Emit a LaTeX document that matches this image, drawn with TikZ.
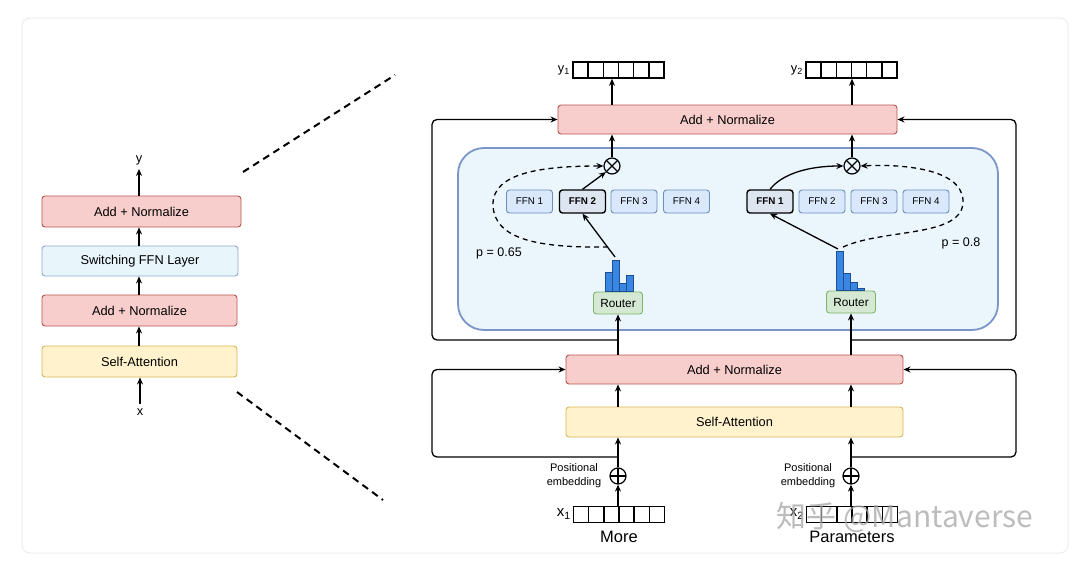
\documentclass[tikz,border=0pt]{standalone}
\usepackage{fontspec}
\setmainfont{Liberation Sans}
\newfontfamily\cjkfont{Noto Sans CJK SC}
\usetikzlibrary{arrows.meta,calc}
\definecolor{redf}{HTML}{F8CECC}
\definecolor{redd}{HTML}{B85450}
\definecolor{yelf}{HTML}{FFF2CC}
\definecolor{yeld}{HTML}{D6B656}
\definecolor{grnf}{HTML}{D5E8D4}
\definecolor{grnd}{HTML}{82B366}
\definecolor{ffnf}{HTML}{DAE8FC}
\definecolor{ffnd}{HTML}{6C8EBF}
\definecolor{self}{HTML}{DDE5F0}
\definecolor{swf}{HTML}{E8F5FB}
\definecolor{swd}{HTML}{8EAACB}
\definecolor{regf}{HTML}{EAF6FC}
\definecolor{regd}{HTML}{7B95C6}
\definecolor{barf}{HTML}{3A87E3}
\definecolor{bard}{HTML}{1C4E96}
\definecolor{framec}{HTML}{ECECEC}
\begin{document}
\begin{tikzpicture}[x=1pt,y=-1pt,
  font=\fontsize{12.8}{15}\selectfont,
  box/.style={rounded corners=3pt, line width=0.9pt, inner sep=0pt, align=center},
  redbox/.style={box, draw=redd, fill=redf},
  yelbox/.style={box, draw=yeld, fill=yelf},
  swbox/.style={box, draw=swd, fill=swf},
  ffnbox/.style={box, draw=ffnd, fill=ffnf, minimum width=46, minimum height=23, font=\fontsize{9.8}{11}\selectfont},
  ffnsel/.style={ffnbox, draw=black, line width=1.4pt, fill=self, font=\fontsize{9.8}{11}\selectfont\bfseries},
  router/.style={box, draw=grnd, fill=grnf, minimum width=49, minimum height=22, font=\fontsize{11.8}{13}\selectfont},
  region/.style={draw=regd, fill=regf, line width=1.8pt, rounded corners=26pt, inner sep=0pt},
  arr/.style={line width=1.3pt, -{Stealth[length=7pt,width=6pt]}},
  darr/.style={arr, dash pattern=on 5pt off 4pt},
  zoomline/.style={line width=2pt, dash pattern=on 7pt off 5pt},
  bar/.style={fill=barf, draw=bard, line width=0.6pt},
  lbl/.style={inner sep=0pt},
  pelbl/.style={inner sep=0pt, align=center, font=\fontsize{11}{14}\selectfont},
  vec/.style={draw, line width=1.6pt, minimum width=91, minimum height=16, inner sep=0pt,
    path picture={\foreach \i in {1,...,5}
      \draw[line width=1.6pt] ([xshift=\i*15.17pt]path picture bounding box.south west) -- ([xshift=\i*15.17pt]path picture bounding box.north west);}},
  otimes/.style={circle, draw, line width=1.2pt, minimum size=16, inner sep=0pt,
    path picture={\draw[line width=1.2pt] (path picture bounding box.north west) -- (path picture bounding box.south east)
      (path picture bounding box.south west) -- (path picture bounding box.north east);}},
  oplus/.style={circle, draw, line width=1.2pt, minimum size=16, inner sep=0pt,
    path picture={\draw[line width=1.2pt] (path picture bounding box.north) -- (path picture bounding box.south)
      (path picture bounding box.west) -- (path picture bounding box.east);}},
]
\useasboundingbox (0,0) rectangle (1080,562);
\draw[framec, line width=1pt, rounded corners=8pt] (22,18) rectangle (1068,553);

% ---------------- left column ----------------
\node[redbox, minimum width=199, minimum height=31] (lan2) at (141.5,211.5) {Add + Normalize};
\node[swbox, minimum width=196, minimum height=30] (lsw) at (140,261) {Switching FFN Layer};
\node[redbox, minimum width=195, minimum height=31] (lan1) at (139.5,310.5) {Add + Normalize};
\node[yelbox, minimum width=195, minimum height=31] (lsa) at (139.5,361.5) {Self-Attention};
\node[lbl] (ly) at (139,160) {y};
\node[lbl] (lx) at (140,412) {x};
\draw[arr, shorten >=4pt] (lan2.north -| ly) -- (ly.south);
\draw[arr] (lsw.north -| ly) -- (ly |- lan2.south);
\draw[arr] (lan1.north -| ly) -- (ly |- lsw.south);
\draw[arr] (lsa.north -| ly) -- (ly |- lan1.south);
\draw[arr, shorten <=4pt] (lx.north) -- (lx |- lsa.south);

\coordinate (z1a) at (243,172);
\coordinate (z1b) at (395,75);
\coordinate (z2a) at (237,392);
\coordinate (z2b) at (383,500);
\draw[zoomline] (z1a) -- (z1b);
\draw[zoomline] (z2a) -- (z2b);

% ---------------- right part ----------------
% residual loops
\coordinate (tl1) at (618,340);
\coordinate (tlc) at (432,340);
\coordinate (tr1) at (851,340);
\coordinate (trc) at (1016,340);
\coordinate (bl1) at (618,457);
\coordinate (blc) at (432,457);
\coordinate (br1) at (851,457);
\coordinate (brc) at (1016,457);

\node[redbox, minimum width=339, minimum height=29] (tan) at (727.5,119.5) {Add + Normalize};
\node[redbox, minimum width=337, minimum height=29] (ban) at (734.5,369.5) {Add + Normalize};
\node[yelbox, minimum width=337, minimum height=30] (bsa) at (734.5,422) {Self-Attention};

\draw[arr, rounded corners=5pt] (tl1) -- (tlc) -- (tlc |- tan.west) -- (tan.west);
\draw[arr, rounded corners=5pt] (tr1) -- (trc) -- (trc |- tan.east) -- (tan.east);
\draw[arr, rounded corners=5pt] (bl1) -- (blc) -- (blc |- ban.west) -- (ban.west);
\draw[arr, rounded corners=5pt] (br1) -- (brc) -- (brc |- ban.east) -- (ban.east);

\node[region, minimum width=540, minimum height=182] (reg) at (728,239) {};

% FFN experts
\node[ffnbox] (f11) at (529.5,201.5) {FFN 1};
\node[ffnsel] (f12) at (582.5,201.5) {FFN 2};
\node[ffnbox] (f13) at (634,201.5) {FFN 3};
\node[ffnbox] (f14) at (686.5,201.5) {FFN 4};
\node[ffnsel] (f21) at (770,201.5) {FFN 1};
\node[ffnbox] (f22) at (822,201.5) {FFN 2};
\node[ffnbox] (f23) at (874,201.5) {FFN 3};
\node[ffnbox] (f24) at (926,201.5) {FFN 4};

\node[otimes] (m1) at (612,166) {};
\node[otimes] (m2) at (852,166) {};

\node[router] (r1) at (618,303) {Router};
\node[router] (r2) at (851,302) {Router};

% histograms
\draw[bar] (605,272) rectangle (612,291);
\draw[bar] (612,260) rectangle (619,291);
\draw[bar] (619,283) rectangle (626,291);
\draw[bar] (626,275) rectangle (633,291);
\draw[bar] (836,251) rectangle (843,290);
\draw[bar] (843,273) rectangle (850,290);
\draw[bar] (850,282) rectangle (857,290);
\draw[bar] (857,288.5) rectangle (864,290);

\coordinate (h1) at (615,257);
\coordinate (h1d) at (608,247);
\coordinate (h2) at (838,249);
\coordinate (h2d) at (843,247);

\draw[arr] (h1) -- (f12.south);
\draw[arr] (f12.north) -- (m1.south west);
\draw[darr] (h1d) .. controls (540,248) and (494,240) .. (493,205) .. controls (492,172) and (545,166) .. (m1.west);

\draw[arr] (h2) -- (f21.south);
\draw[arr] (f21.north) .. controls (782,174) and (808,166) .. (m2.west);
\draw[darr] (h2d) .. controls (885,228) and (965,238) .. (963,200) .. controls (961,168) and (900,164) .. (m2.east);

\node[lbl, font=\fontsize{12.5}{15}\selectfont] (p1) at (499,253) {p = 0.65};
\node[lbl, font=\fontsize{12.5}{15}\selectfont] (p2) at (961,243) {p = 0.8};

% outputs
\node[vec] (y1v) at (618.5,70) {};
\node[vec] (y2v) at (851.5,70) {};
\node[lbl, anchor=east] (y1l) at (570,70) {y\textsubscript{1}};
\node[lbl, anchor=east] (y2l) at (803,70) {y\textsubscript{2}};

\draw[arr] (m1.north) -- (m1 |- tan.south);
\draw[arr] (m2.north) -- (m2 |- tan.south);
\draw[arr] (tan.north -| m1) -- (m1 |- y1v.south);
\draw[arr] (tan.north -| m2) -- (m2 |- y2v.south);

\draw[arr] (ban.north -| r1) -- (r1.south);
\draw[arr] (ban.north -| r2) -- (r2.south);
\draw[arr] (bsa.north -| r1) -- (r1 |- ban.south);
\draw[arr] (bsa.north -| r2) -- (r2 |- ban.south);

% inputs
\node[oplus] (a1) at (618,476) {};
\node[oplus] (a2) at (851,476) {};
\node[pelbl] (pe1) at (574,476) {Positional\\embedding};
\node[pelbl] (pe2) at (808,476) {Positional\\embedding};
\node[vec] (x1v) at (619,514.5) {};
\node[vec] (x2v) at (852,514.5) {};
\node[lbl, anchor=east, font=\fontsize{15}{17}\selectfont] (x1l) at (571,514) {x\textsubscript{1}};
\node[lbl, anchor=east, font=\fontsize{15}{17}\selectfont] (x2l) at (804,514) {x\textsubscript{2}};
\node[lbl, font=\fontsize{16.5}{19}\selectfont] (more) at (619,537) {More};
\node[lbl, font=\fontsize{16.5}{19}\selectfont] (params) at (852,537) {Parameters};

\draw[arr] (a1.north) -- (a1 |- bsa.south);
\draw[arr] (a2.north) -- (a2 |- bsa.south);
\draw[arr] (x1v.north -| a1) -- (a1.south);
\draw[arr] (x2v.north -| a2) -- (a2.south);

% watermark
\node[lbl, text=black!35, opacity=0.75, font=\cjkfont\fontsize{30}{32}\selectfont] (wm) at (905,517) {知乎 @Mantaverse};
\end{tikzpicture}
\end{document}
